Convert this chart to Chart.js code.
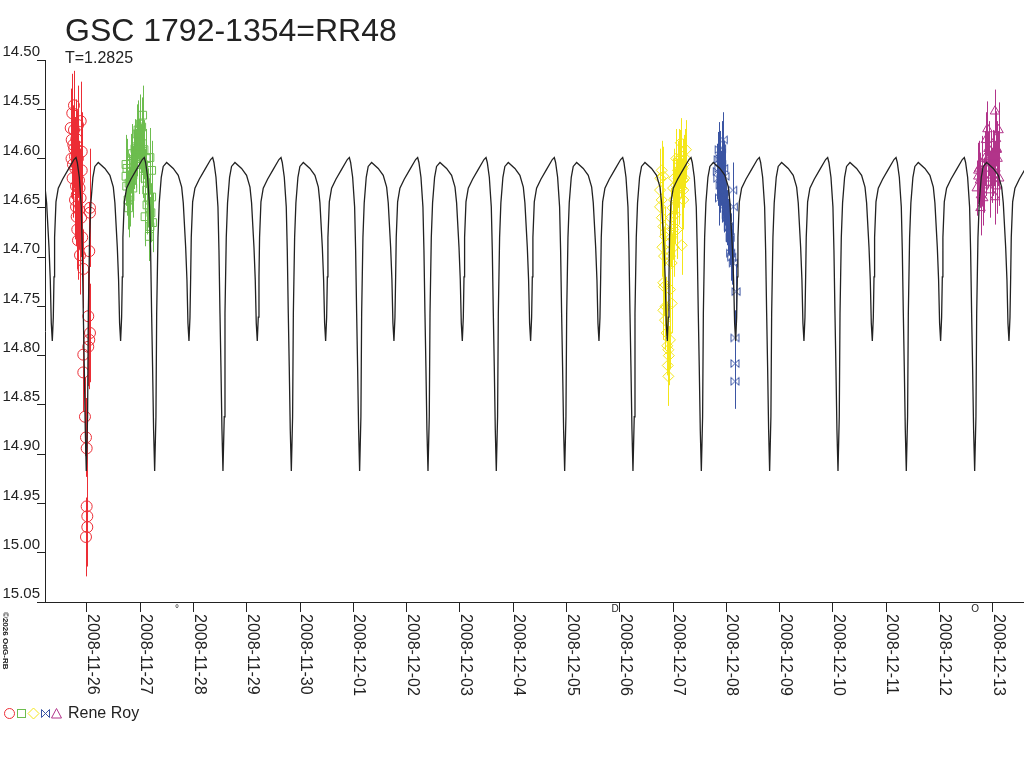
<!DOCTYPE html>
<html>
<head>
<meta charset="utf-8">
<style>
  html, body { margin: 0; padding: 0; background: #fff; }
  canvas { display: block; }
</style>
<script src="https://cdn.jsdelivr.net/npm/chart.js@4/dist/chart.umd.min.js"></script>
</head>
<body>
<canvas id="lightCurve" width="1024" height="768"></canvas>
<script>
// x values are days counted from 2008-11-26 00:00 UT, y values are magnitudes

const dateLabels = ['2008-11-26', '2008-11-27', '2008-11-28', '2008-11-29', '2008-11-30',
    '2008-12-01', '2008-12-02', '2008-12-03', '2008-12-04', '2008-12-05', '2008-12-06',
    '2008-12-07', '2008-12-08', '2008-12-09', '2008-12-10', '2008-12-11', '2008-12-12', '2008-12-13'];
const magTicks = [14.50, 14.55, 14.60, 14.65, 14.70, 14.75, 14.80, 14.85, 14.90, 14.95, 15.00, 15.05];

// times of the deep minima of the fitted curve (T = 1.2825 d)
const eclipseTimes = [-1.295, -0.013, 1.270, 2.552, 3.835, 5.117, 6.400, 7.682,
    8.965, 10.247, 11.530, 12.812, 14.095, 15.377, 16.660];

// one cycle of the fitted curve: [days after deep minimum, magnitude]
const cycleShape = [
    [0.000, 14.917], [0.024, 14.862], [0.038, 14.757], [0.062, 14.680], [0.086, 14.645],
    [0.124, 14.619], [0.161, 14.608], [0.225, 14.604], [0.349, 14.610], [0.443, 14.617],
    [0.507, 14.629], [0.537, 14.645], [0.582, 14.690], [0.606, 14.723], [0.625, 14.767],
    [0.644, 14.785], [0.663, 14.761], [0.676, 14.720], [0.687, 14.680], [0.713, 14.644],
    [0.756, 14.630], [0.837, 14.621], [0.944, 14.611], [1.051, 14.601], [1.089, 14.599],
    [1.113, 14.604], [1.151, 14.619], [1.188, 14.649], [1.207, 14.693], [1.226, 14.757],
    [1.244, 14.811], [1.263, 14.875]
];

// observations: [day, magnitude, error]
const redObs = [
    [-0.276, 14.554, 0.040], [-0.118, 14.562, 0.040], [-0.306, 14.569, 0.040], [-0.287, 14.581, 0.040],
    [-0.257, 14.586, 0.040], [-0.099, 14.593, 0.040], [-0.225, 14.598, 0.040], [-0.099, 14.612, 0.040],
    [-0.206, 14.628, 0.040], [-0.193, 14.637, 0.040], [-0.206, 14.649, 0.040], [0.056, 14.650, 0.060],
    [0.056, 14.655, 0.050], [-0.193, 14.659, 0.040], [-0.182, 14.672, 0.040], [0.043, 14.694, 0.050],
    [-0.069, 14.712, 0.040], [0.024, 14.760, 0.050], [0.056, 14.777, 0.050], [0.043, 14.784, 0.050],
    [0.024, 14.791, 0.040], [-0.069, 14.799, 0.040], [-0.069, 14.817, 0.040], [-0.038, 14.862, 0.040],
    [-0.019, 14.883, 0.040], [-0.006, 14.894, 0.040], [-0.006, 14.953, 0.040], [0.006, 14.963, 0.040],
    [0.006, 14.974, 0.040], [-0.019, 14.984, 0.040], [-0.244, 14.546, 0.035], [-0.169, 14.566, 0.040],
    [-0.263, 14.606, 0.040], [-0.150, 14.622, 0.040], [-0.225, 14.642, 0.040], [-0.169, 14.683, 0.040],
    [-0.131, 14.698, 0.040], [-0.244, 14.571, 0.040], [-0.188, 14.591, 0.040], [-0.150, 14.652, 0.040],
    [-0.290, 14.600, 0.040], [-0.270, 14.620, 0.040], [-0.240, 14.590, 0.040], [-0.220, 14.610, 0.040],
    [-0.200, 14.580, 0.040], [-0.170, 14.600, 0.040], [-0.140, 14.630, 0.040], [-0.120, 14.640, 0.040],
    [-0.110, 14.660, 0.040], [-0.090, 14.680, 0.040]
];
const greenObs = [
    [1.045, 14.556, 0.030], [1.027, 14.568, 0.030], [0.732, 14.606, 0.030], [1.182, 14.599, 0.030],
    [0.732, 14.618, 0.030], [0.745, 14.628, 0.030], [1.214, 14.612, 0.030], [0.807, 14.639, 0.030],
    [1.120, 14.632, 0.030], [1.214, 14.639, 0.030], [1.089, 14.659, 0.030], [1.182, 14.669, 0.030],
    [1.169, 14.679, 0.025], [0.933, 14.588, 0.030], [0.995, 14.581, 0.030], [0.839, 14.622, 0.030],
    [0.882, 14.601, 0.030], [0.957, 14.571, 0.030], [1.070, 14.591, 0.030], [0.770, 14.642, 0.030],
    [1.126, 14.647, 0.030], [0.863, 14.617, 0.030], [0.976, 14.606, 0.030],
    [0.750, 14.610, 0.030], [0.790, 14.625, 0.030], [0.820, 14.605, 0.030], [0.850, 14.595, 0.030],
    [0.900, 14.590, 0.030], [0.920, 14.600, 0.030], [0.940, 14.575, 0.030], [0.970, 14.590, 0.030],
    [1.000, 14.565, 0.030], [1.010, 14.595, 0.030], [1.040, 14.585, 0.030], [1.060, 14.610, 0.030],
    [1.090, 14.620, 0.030], [1.110, 14.600, 0.030], [1.150, 14.640, 0.030], [1.170, 14.650, 0.030],
    [1.200, 14.655, 0.030], [1.230, 14.665, 0.030], [0.780, 14.650, 0.030], [0.860, 14.630, 0.030]
];
const yellowObs = [
    [11.143, 14.584, 0.025], [11.130, 14.601, 0.030], [10.786, 14.612, 0.030], [10.817, 14.618, 0.030],
    [11.192, 14.622, 0.030], [10.755, 14.632, 0.030], [10.786, 14.642, 0.030], [10.755, 14.649, 0.030],
    [11.192, 14.632, 0.030], [11.192, 14.642, 0.030], [10.817, 14.669, 0.030], [10.848, 14.679, 0.030],
    [11.162, 14.688, 0.030], [10.830, 14.699, 0.030], [10.942, 14.699, 0.030], [10.974, 14.706, 0.030],
    [10.817, 14.726, 0.030], [10.942, 14.733, 0.030], [10.974, 14.747, 0.030], [10.817, 14.754, 0.030],
    [10.848, 14.764, 0.030], [10.880, 14.777, 0.030], [10.942, 14.784, 0.030], [10.911, 14.794, 0.030],
    [10.911, 14.821, 0.030], [11.017, 14.642, 0.030], [11.055, 14.627, 0.030], [11.092, 14.612, 0.030],
    [11.036, 14.657, 0.030], [11.073, 14.672, 0.030], [11.111, 14.637, 0.030], [10.998, 14.672, 0.030],
    [11.243, 14.591, 0.030], [11.205, 14.606, 0.030],
    [10.960, 14.660, 0.030], [10.990, 14.650, 0.030], [11.000, 14.630, 0.030], [11.020, 14.620, 0.030],
    [11.040, 14.640, 0.030], [11.060, 14.600, 0.030], [11.080, 14.630, 0.030], [11.100, 14.620, 0.030],
    [11.120, 14.600, 0.030], [11.140, 14.610, 0.030], [11.160, 14.630, 0.030], [11.180, 14.610, 0.030],
    [11.210, 14.620, 0.030], [11.230, 14.600, 0.030], [10.970, 14.680, 0.030], [11.010, 14.690, 0.030],
    [10.760, 14.620, 0.030], [10.790, 14.660, 0.030], [10.800, 14.690, 0.030], [10.830, 14.730, 0.030],
    [10.860, 14.750, 0.030], [10.890, 14.790, 0.030], [10.900, 14.810, 0.030], [10.920, 14.800, 0.030]
];
const blueObs = [
    [11.830, 14.613, 0.028], [11.913, 14.606, 0.028], [11.974, 14.618, 0.028], [12.119, 14.632, 0.028],
    [12.130, 14.649, 0.028], [12.036, 14.669, 0.028], [12.081, 14.696, 0.028], [12.130, 14.706, 0.028],
    [12.181, 14.735, 0.028], [12.162, 14.782, 0.028], [12.162, 14.808, 0.028], [12.162, 14.826, 0.028],
    [11.865, 14.591, 0.028], [11.884, 14.627, 0.028], [11.922, 14.637, 0.028], [11.959, 14.647, 0.028],
    [11.997, 14.657, 0.028], [11.846, 14.601, 0.028], [11.941, 14.581, 0.028],
    [11.840, 14.620, 0.028], [11.860, 14.610, 0.028], [11.880, 14.600, 0.028], [11.900, 14.620, 0.028],
    [11.930, 14.630, 0.028], [11.950, 14.610, 0.028], [11.980, 14.640, 0.028], [12.000, 14.650, 0.028],
    [12.020, 14.660, 0.028], [12.050, 14.670, 0.028], [12.070, 14.680, 0.028], [12.100, 14.700, 0.028],
    [11.870, 14.640, 0.028], [11.910, 14.590, 0.028]
];
const magentaObs = [
    [17.042, 14.552, 0.022], [17.074, 14.590, 0.028], [16.729, 14.612, 0.028], [17.074, 14.591, 0.028],
    [16.807, 14.605, 0.028], [16.760, 14.622, 0.028], [17.074, 14.628, 0.028], [17.042, 14.639, 0.028],
    [16.948, 14.632, 0.028], [16.729, 14.618, 0.028], [16.995, 14.599, 0.028], [16.873, 14.581, 0.028],
    [16.910, 14.601, 0.028], [16.835, 14.627, 0.028], [16.985, 14.617, 0.028], [17.108, 14.571, 0.028],
    [16.779, 14.637, 0.028],
    [16.700, 14.630, 0.028], [16.750, 14.610, 0.028], [16.800, 14.620, 0.028], [16.850, 14.600, 0.028],
    [16.880, 14.610, 0.028], [16.920, 14.590, 0.028], [16.950, 14.620, 0.028], [16.970, 14.600, 0.028],
    [17.000, 14.610, 0.028], [17.020, 14.600, 0.028], [17.050, 14.610, 0.028], [17.090, 14.600, 0.028],
    [17.120, 14.620, 0.028], [16.900, 14.570, 0.028], [17.060, 14.580, 0.028], [16.820, 14.640, 0.028],
    [16.770, 14.650, 0.028]
];

// small symbols printed just below the time axis
const axisMarks = [[1.69, '\u00b0'], [9.91, 'D'], [16.667, 'O']];

const RED = '#ec2d35';
const GREEN = '#6dbd4f';
const YELLOW = '#f4e619';
const BLUE = '#3b55a3';
const MAGENTA = '#b2348a';
const INK = '#222222';
const FONT = '"Liberation Sans", Arial, sans-serif';

function bowtie(color) {
    const c = document.createElement('canvas');
    c.width = 11;
    c.height = 11;
    const g = c.getContext('2d');
    g.strokeStyle = color;
    g.lineWidth = 1;
    g.beginPath();
    g.moveTo(1.5, 1.5); g.lineTo(9.5, 9.5);
    g.moveTo(9.5, 1.5); g.lineTo(1.5, 9.5);
    g.moveTo(1.5, 1.5); g.lineTo(1.5, 9.5);
    g.moveTo(9.5, 1.5); g.lineTo(9.5, 9.5);
    g.stroke();
    return c;
}

const modelPoints = [];
eclipseTimes.forEach(t0 => {
    cycleShape.forEach(p => modelPoints.push({ x: t0 + p[0], y: p[1] }));
});

function obsDataset(label, rows, color, style, radius) {
    return {
        label: label,
        data: rows.map(r => ({ x: r[0], y: r[1] })),
        errors: rows.map(r => r[2]),
        borderColor: color,
        backgroundColor: 'rgba(0,0,0,0)',
        pointStyle: style,
        pointRadius: radius,
        pointBorderWidth: 1,
        showLine: false
    };
}

// vertical error bars, drawn under the markers
const errorBars = {
    id: 'errorBars',
    beforeDatasetsDraw(chart) {
        const ctx = chart.ctx;
        const x = chart.scales.x;
        const y = chart.scales.y;
        chart.data.datasets.forEach(ds => {
            if (!ds.errors) return;
            ctx.save();
            ctx.strokeStyle = ds.borderColor;
            ctx.lineWidth = 1;
            ds.data.forEach((p, i) => {
                const px = Math.round(x.getPixelForValue(p.x)) + 0.5;
                ctx.beginPath();
                ctx.moveTo(px, y.getPixelForValue(p.y - ds.errors[i]));
                ctx.lineTo(px, y.getPixelForValue(p.y + ds.errors[i]));
                ctx.stroke();
            });
            ctx.restore();
        });
    }
};

// title, rotated date labels, legend and small notes
const decorations = {
    id: 'decorations',
    afterDraw(chart) {
        const ctx = chart.ctx;
        const x = chart.scales.x;
        const bottom = chart.chartArea.bottom;
        ctx.save();
        ctx.fillStyle = INK;
        ctx.textBaseline = 'alphabetic';
        ctx.textAlign = 'left';

        ctx.font = '32px ' + FONT;
        ctx.fillText('GSC 1792-1354=RR48', 65, 41);
        ctx.font = '16px ' + FONT;
        ctx.fillText('T=1.2825', 65, 63);

        // date labels read top to bottom
        dateLabels.forEach((lbl, i) => {
            const px = x.getPixelForValue(i);
            ctx.save();
            ctx.translate(px + 1, bottom + 12);
            ctx.rotate(Math.PI / 2);
            ctx.font = '16px ' + FONT;
            ctx.fillText(lbl, 0, 0);
            ctx.restore();
        });

        ctx.font = '10px ' + FONT;
        ctx.textAlign = 'center';
        ctx.textBaseline = 'top';
        axisMarks.forEach(m => {
            ctx.fillText(m[1], x.getPixelForValue(m[0]), bottom + 2);
        });

        ctx.save();
        ctx.translate(3, 612);
        ctx.rotate(Math.PI / 2);
        ctx.textAlign = 'left';
        ctx.textBaseline = 'alphabetic';
        ctx.font = 'bold 8px ' + FONT;
        ctx.fillText('\u00a92026 OdG-RB', 0, 0);
        ctx.restore();

        // observer legend
        const ly = 713.5;
        ctx.lineWidth = 1;
        ctx.strokeStyle = RED;
        ctx.beginPath(); ctx.arc(9.5, ly, 5, 0, Math.PI * 2); ctx.stroke();
        ctx.strokeStyle = GREEN;
        ctx.strokeRect(17.5, ly - 4, 8, 8);
        ctx.strokeStyle = YELLOW;
        ctx.beginPath();
        ctx.moveTo(28, ly); ctx.lineTo(33.5, ly - 5.5); ctx.lineTo(39, ly); ctx.lineTo(33.5, ly + 5.5);
        ctx.closePath(); ctx.stroke();
        ctx.drawImage(bowtie(BLUE), 40, ly - 5.5);
        ctx.strokeStyle = MAGENTA;
        ctx.beginPath();
        ctx.moveTo(51.5, ly + 4.5); ctx.lineTo(56.5, ly - 5); ctx.lineTo(61.5, ly + 4.5);
        ctx.closePath(); ctx.stroke();

        ctx.textAlign = 'left';
        ctx.textBaseline = 'alphabetic';
        ctx.font = '16px ' + FONT;
        ctx.fillText('Rene Roy', 68, 718);
        ctx.restore();
    }
};

new Chart(document.getElementById('lightCurve'), {
    type: 'scatter',
    data: {
        datasets: [
            {
                label: 'fit',
                data: modelPoints,
                showLine: true,
                borderColor: INK,
                borderWidth: 1.3,
                pointRadius: 0,
                tension: 0,
                fill: false
            },
            obsDataset('red', redObs, RED, 'circle', 5.5),
            obsDataset('green', greenObs, GREEN, 'rect', 5.5),
            obsDataset('yellow', yellowObs, YELLOW, 'rectRot', 5.5),
            obsDataset('blue', blueObs, BLUE, bowtie(BLUE), 5),
            obsDataset('magenta', magentaObs, MAGENTA, 'triangle', 5.5)
        ]
    },
    options: {
        responsive: false,
        animation: false,
        devicePixelRatio: 1,
        layout: { autoPadding: false, padding: { top: 60, right: 0, left: 0, bottom: 0 } },
        plugins: {
            legend: { display: false },
            tooltip: { enabled: false },
            title: { display: false }
        },
        scales: {
            x: {
                type: 'linear',
                min: -0.788,
                max: 17.586,
                afterBuildTicks: scale => {
                    scale.ticks = dateLabels.map((_, i) => ({ value: i }));
                },
                afterFit: scale => { scale.height = 166; },
                ticks: { display: false, autoSkip: false },
                grid: { drawOnChartArea: false, drawTicks: true, tickLength: 10, color: INK, lineWidth: 1 },
                border: { display: true, color: INK, width: 1 }
            },
            y: {
                type: 'linear',
                reverse: true,
                min: 14.50,
                max: 15.05,
                afterBuildTicks: scale => {
                    scale.ticks = magTicks.map(v => ({ value: v }));
                },
                afterFit: scale => { scale.width = 45; },
                ticks: {
                    autoSkip: false,
                    color: INK,
                    font: { family: FONT, size: 15 },
                    padding: -3,
                    labelOffset: -8,
                    callback: v => Number(v).toFixed(2)
                },
                grid: { drawOnChartArea: false, drawTicks: true, tickLength: 8, color: INK, lineWidth: 1 },
                border: { display: true, color: INK, width: 1 }
            }
        }
    },
    plugins: [errorBars, decorations]
});
</script>
</body>
</html>
